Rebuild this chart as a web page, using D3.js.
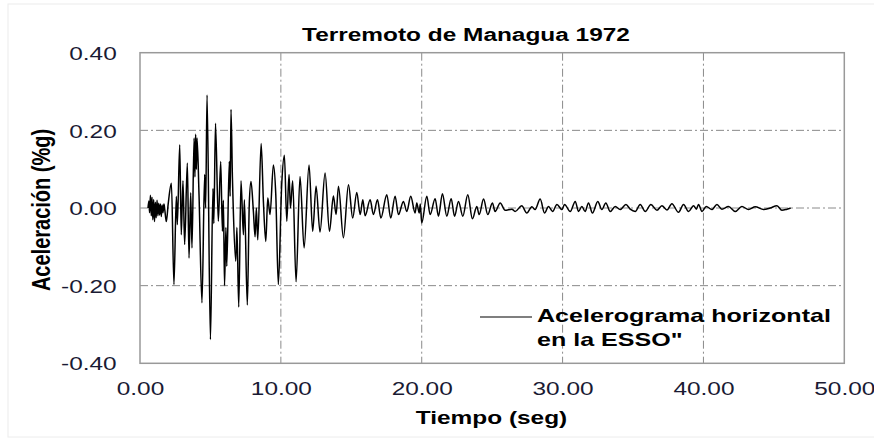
<!DOCTYPE html>
<html>
<head>
<meta charset="utf-8">
<script src="https://cdn.jsdelivr.net/npm/d3@7"></script>
<style>
  body { margin: 0; background: #fff; }
  svg text { font-family: "Liberation Sans", Arial, sans-serif; }
</style>
</head>
<body>
<svg id="chart" width="874" height="439"></svg>
<script>
// Accelerogram (peaks and troughs), time in s, acceleration in g
const timeSec = [
  0.57, 0.63, 0.68, 0.74, 0.80, 0.85, 0.91, 0.97, 1.03, 1.09, 1.15, 1.21, 1.27, 1.33, 1.39, 1.45,
  1.51, 1.57, 1.63, 1.70, 1.76, 1.87, 2.00, 2.23, 2.41, 2.58, 2.65, 2.82, 2.93, 3.05, 3.17, 3.36,
  3.48, 3.60, 3.69, 3.84, 3.90, 3.95, 4.00, 4.05, 4.19, 4.40, 4.59, 4.66, 4.76, 5.00, 5.18, 5.24,
  5.36, 5.56, 5.73, 5.85, 5.92, 6.00, 6.10, 6.16, 6.34, 6.40, 6.46, 6.56, 6.62, 6.80, 6.88, 7.01,
  7.17, 7.34, 7.41, 7.62, 7.76, 7.88, 8.05, 8.17, 8.26, 8.36, 8.60, 8.76, 8.93, 9.07, 9.23, 9.47,
  9.64, 9.82, 10.06, 10.25, 10.42, 10.58, 10.68, 10.84, 11.08, 11.36, 11.65, 12.00, 12.26, 12.50, 12.78, 13.14,
  13.45, 13.73, 13.92, 14.09, 14.44, 14.80, 15.10, 15.39, 15.63, 15.82, 15.98, 16.34, 16.57, 16.86, 17.10, 17.52,
  17.80, 18.11, 18.35, 18.70, 18.94, 19.22, 19.53, 19.65, 19.82, 19.90, 20.00, 20.36, 20.60, 20.95, 21.19, 21.47,
  21.78, 22.09, 22.33, 22.61, 22.92, 23.27, 23.60, 23.91, 24.08, 24.39, 24.69, 25.02, 25.21, 25.57, 25.92, 26.40,
  26.63, 27.10, 27.46, 27.82, 28.05, 28.41, 28.72, 29.00, 29.29, 29.60, 29.95, 30.14, 30.54, 30.90, 31.13, 31.37,
  31.60, 31.84, 32.12, 32.50, 32.79, 33.07, 33.38, 33.74, 34.09, 34.50, 34.80, 35.16, 35.51, 35.87, 36.27, 36.70,
  37.05, 37.41, 37.76, 38.23, 38.59, 38.94, 39.30, 39.50, 39.65, 39.90, 40.20, 40.60, 40.96, 41.31, 41.78, 42.26,
  42.73, 43.20, 43.68, 44.27, 44.74, 45.22, 45.57, 45.93, 46.20
];
const accel = [
  0.000, 0.018, -0.012, 0.033, -0.020, 0.028, -0.030, 0.022, -0.035, 0.015, -0.025, 0.020, -0.020, 0.012, -0.018, 0.010,
  -0.022, 0.008, -0.012, 0.010, -0.005, -0.035, 0.010, 0.064, -0.197, 0.030, -0.043, 0.163, -0.069, 0.070, -0.094, 0.116,
  -0.129, 0.039, -0.103, 0.180, 0.080, 0.190, 0.100, 0.180, 0.034, -0.244, 0.086, 0.000, 0.291, -0.339, 0.050, -0.040,
  0.218, -0.034, 0.120, -0.060, 0.020, -0.200, -0.050, -0.150, 0.120, 0.030, 0.254, 0.080, 0.000, -0.137, -0.050, -0.255,
  0.070, -0.069, 0.021, -0.250, 0.013, 0.068, -0.009, -0.074, 0.000, -0.082, 0.166, 0.017, -0.086, 0.026, -0.017, 0.111,
  0.034, -0.197, 0.060, 0.136, -0.034, 0.086, 0.000, 0.070, -0.190, 0.081, -0.103, 0.111, -0.060, 0.056, -0.062, 0.090,
  -0.060, 0.031, -0.017, 0.056, -0.077, 0.060, -0.026, 0.040, -0.017, 0.021, -0.020, 0.021, -0.017, 0.021, -0.026, 0.034,
  -0.026, 0.030, -0.017, 0.017, -0.009, 0.030, -0.013, 0.013, -0.013, 0.010, -0.039, 0.030, -0.017, 0.024, -0.021, 0.037,
  -0.021, 0.024, -0.021, 0.017, -0.021, 0.034, -0.028, 0.004, -0.017, 0.023, -0.017, 0.013, -0.009, 0.013, -0.006, -0.003,
  -0.009, 0.006, -0.013, 0.003, -0.004, 0.023, -0.013, 0.004, -0.009, 0.009, -0.004, 0.009, -0.009, 0.017, -0.009, 0.004,
  -0.009, 0.013, -0.013, 0.017, -0.004, 0.013, -0.009, 0.004, -0.004, 0.009, -0.003, -0.009, 0.009, -0.009, 0.009, -0.006,
  0.006, -0.005, 0.011, -0.011, 0.009, -0.009, 0.006, -0.003, 0.009, -0.009, 0.004, -0.004, 0.009, -0.003, 0.004, -0.009,
  0.004, -0.004, 0.003, -0.004, 0.000, 0.006, -0.006, -0.003, 0.000
];

const xTicks = [0, 10, 20, 30, 40, 50];
const xTickLabels = ["0.00", "10.00", "20.00", "30.00", "40.00", "50.00"];
const yTicks = [-0.4, -0.2, 0, 0.2, 0.4];
const yTickLabels = ["-0.40", "-0.20", "0.00", "0.20", "0.40"];

const chartTitle = "Terremoto de Managua 1972";
const xTitle = "Tiempo (seg)";
const yTitle = "Aceleración (%g)";
const legendLines = ["Acelerograma horizontal", "en la ESSO\""];

// the source picture is stretched sideways, so text gets a horizontal scale
const SX = 1.32;
const FS = 18.5;
const labelColor = "#1a1a33";
const gridColor = "#8a8a8a";
const gridDash = "8,3,2,3";

const svg = d3.select("#chart");

// slight softening, the original is a scanned-looking bitmap
svg.append("defs").append("filter").attr("id", "soft")
  .append("feGaussianBlur").attr("stdDeviation", 0.35);

// faint outer chart frame
svg.append("rect")
  .attr("x", 8).attr("y", 4).attr("width", 900).attr("height", 433)
  .attr("fill", "none").attr("stroke", "#ececec");

const x = d3.scaleLinear().domain([0, 50]).range([140, 844.3]);
const y = d3.scaleLinear().domain([-0.4, 0.4]).range([363.3, 52.7]);

// dash-dot grid
svg.append("g").selectAll("line")
  .data(xTicks.slice(1, -1))
  .join("line")
    .attr("x1", d => x(d)).attr("x2", d => x(d))
    .attr("y1", y(0.4)).attr("y2", y(-0.4))
    .attr("stroke", gridColor).attr("stroke-dasharray", gridDash);

svg.append("g").selectAll("line")
  .data(yTicks.slice(1, -1))
  .join("line")
    .attr("x1", x(0)).attr("x2", x(50))
    .attr("y1", d => y(d)).attr("y2", d => y(d))
    .attr("stroke", gridColor).attr("stroke-dasharray", gridDash);

// axes, labels only
const gx = svg.append("g")
  .attr("transform", "translate(0," + y(-0.4) + ")")
  .call(d3.axisBottom(x).tickValues(xTicks).tickFormat((d, i) => xTickLabels[i]).tickSize(0));
gx.select(".domain").remove();
gx.selectAll("text")
  .attr("y", 31.7).attr("dy", null)
  .attr("font-size", FS).attr("fill", labelColor)
  .attr("transform", "scale(" + SX + ",1)");

const gy = svg.append("g")
  .attr("transform", "translate(" + x(0) + ",0)")
  .call(d3.axisLeft(y).tickValues(yTicks).tickFormat((d, i) => yTickLabels[i]).tickSize(0));
gy.select(".domain").remove();
gy.selectAll("text")
  .attr("x", -23.3 / SX).attr("dy", "0.36em")
  .attr("font-size", FS).attr("fill", labelColor)
  .attr("transform", "scale(" + SX + ",1)");

// the accelerogram
const line = d3.line().x(d => x(d[0])).y(d => y(d[1])).curve(d3.curveMonotoneX);
svg.append("path")
  .datum(d3.zip(timeSec, accel))
  .attr("d", line)
  .attr("fill", "none")
  .attr("stroke", "#000")
  .attr("stroke-width", 1.5)
  .attr("stroke-linejoin", "round")
  .attr("filter", "url(#soft)");

// plot frame
svg.append("rect")
  .attr("x", x(0)).attr("y", y(0.4))
  .attr("width", x(50) - x(0)).attr("height", y(-0.4) - y(0.4))
  .attr("fill", "none").attr("stroke", "#999").attr("stroke-width", 1.5);

function addText(px, py, str, size, anchor, rotate) {
  return svg.append("text")
    .attr("transform", "translate(" + px + "," + py + ") scale(" + SX + ",1)" + (rotate ? " rotate(" + rotate + ")" : ""))
    .attr("text-anchor", anchor)
    .attr("font-size", size)
    .attr("font-weight", "bold")
    .attr("fill", "#000")
    .text(str);
}

addText(466, 41, chartTitle, FS, "middle");
addText(491.5, 423.5, xTitle, FS, "middle");
addText(50, 210, yTitle, 20, "middle", -90);

// legend
svg.append("line")
  .attr("x1", 480).attr("x2", 532).attr("y1", 317).attr("y2", 317)
  .attr("stroke", "#000").attr("stroke-width", 1.2);
legendLines.forEach((t, i) => addText(537, 321.7 + i * 24.3, t, 19, "start"));
</script>
</body>
</html>
